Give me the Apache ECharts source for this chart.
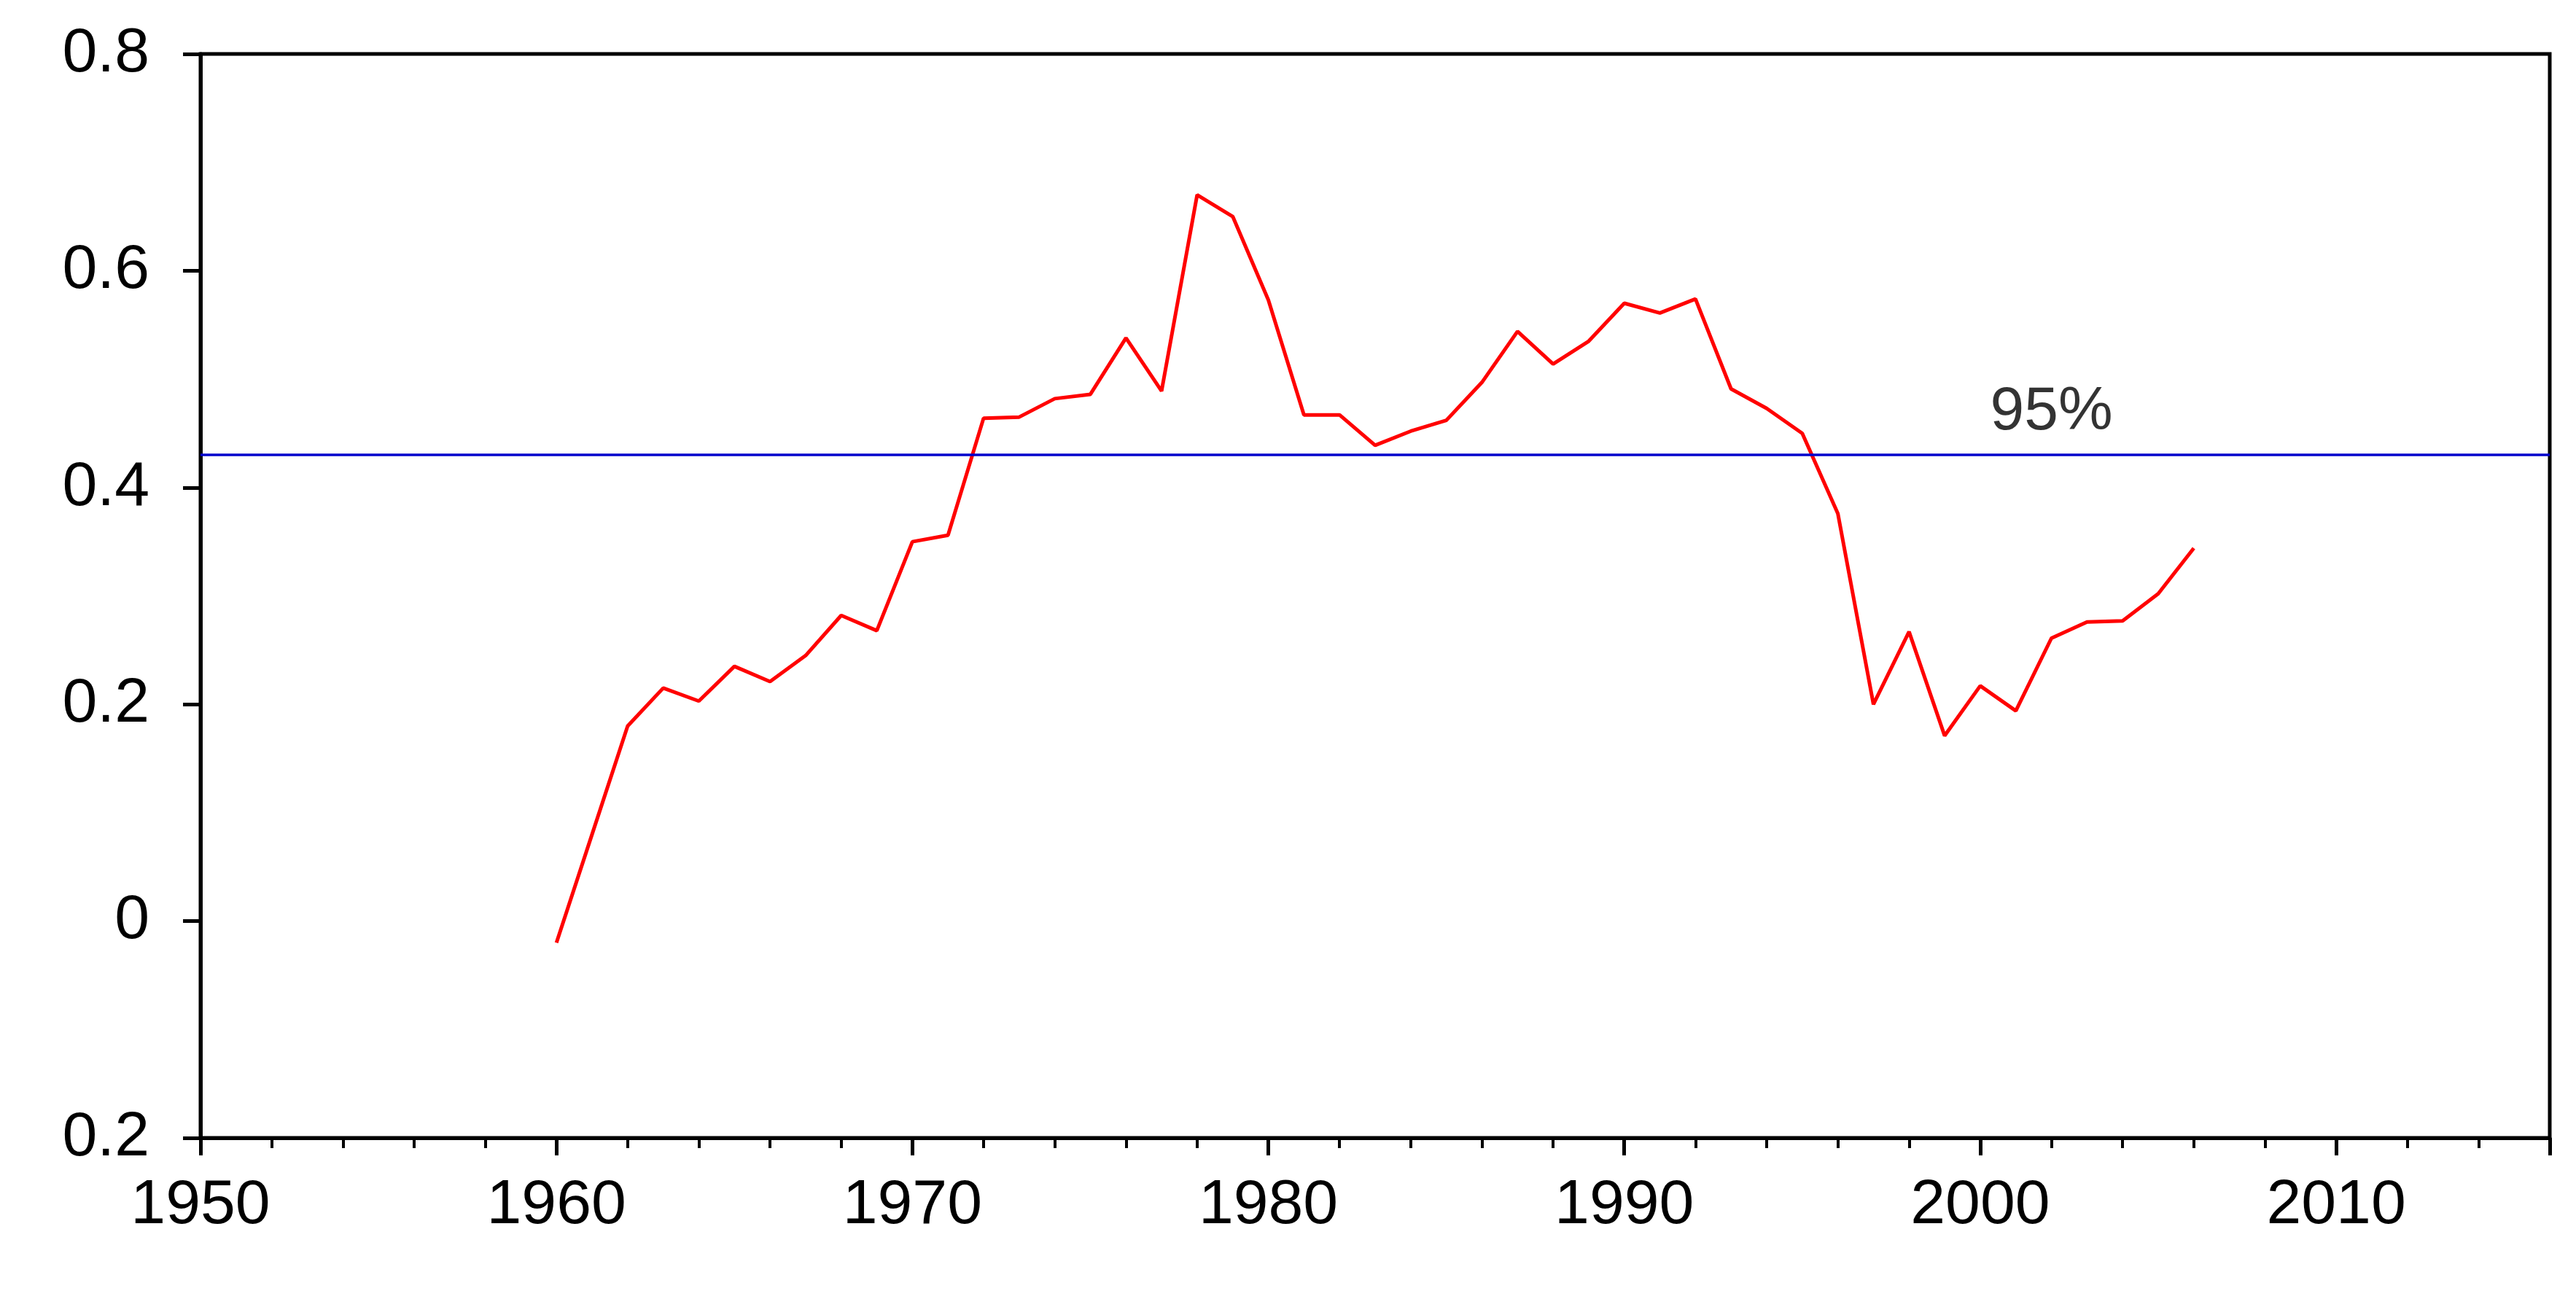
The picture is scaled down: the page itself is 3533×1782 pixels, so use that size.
<!DOCTYPE html>
<html><head><meta charset="utf-8">
<script src="https://cdn.jsdelivr.net/npm/echarts@6/dist/echarts.min.js"></script>
<style>html,body{margin:0;background:#fff}#c{width:3533px;height:1782px}</style>
</head><body><div id="c"></div>
<script>
const years = [];
for (let y = 1960; y <= 2006; y++) years.push(y);
const values = [-0.02,0.08,0.18,0.215,0.203,0.235,0.221,0.245,0.282,0.268,0.35,0.356,0.464,0.465,0.482,0.486,0.538,0.489,0.67,0.65,0.573,0.467,0.467,0.439,0.452,0.462,0.497,0.544,0.514,0.535,0.57,0.561,0.574,0.491,0.473,0.45,0.376,0.2,0.267,0.171,0.217,0.194,0.261,0.276,0.277,0.302,0.344];
const threshold = 0.433;
const thresholdLabel = '95%';
const chart = echarts.init(document.getElementById('c'));
const font = {fontFamily:'Liberation Sans', fontSize:86, color:'#000'};
chart.setOption({
  animation:false,
  grid:{left:275,right:36,top:74,bottom:221,show:true,borderColor:'#000',borderWidth:5},
  xAxis:{type:'value',min:1950,max:2016,interval:10,
    axisLine:{onZero:false,lineStyle:{color:'#000',width:5}},
    axisTick:{inside:false,length:24,lineStyle:{color:'#000',width:5}},
    minorTick:{show:true,splitNumber:5,length:14,lineStyle:{color:'#000',width:4}},
    splitLine:{show:false},
    axisLabel:Object.assign({margin:50,formatter:v=>v<=2010?String(v):''},font)},
  yAxis:{type:'value',min:-0.2,max:0.8,interval:0.2,
    axisLine:{lineStyle:{color:'#000',width:5}},
    axisTick:{length:24,lineStyle:{color:'#000',width:5}},
    splitLine:{show:false},
    axisLabel:Object.assign({margin:70,formatter:v=>{const a=Math.abs(Math.round(v*10)/10);return a===0?'0':a.toFixed(1);}},font)},
  series:[{type:'line',data:years.map((y,i)=>[y,values[i]]),symbol:'none',
    lineStyle:{color:'#ff0000',width:5},
    markLine:{silent:true,symbol:'none',
      lineStyle:{color:'#0000cc',width:3.5,type:'solid'},
      label:{show:false},
      data:[{yAxis:threshold}]}},
    {type:'scatter',data:[[2002,threshold]],symbolSize:0,
      label:{show:true,formatter:thresholdLabel,position:'top',distance:12,
        fontFamily:'Liberation Sans',fontSize:84,color:'#000'}}]
});
</script></body></html>
